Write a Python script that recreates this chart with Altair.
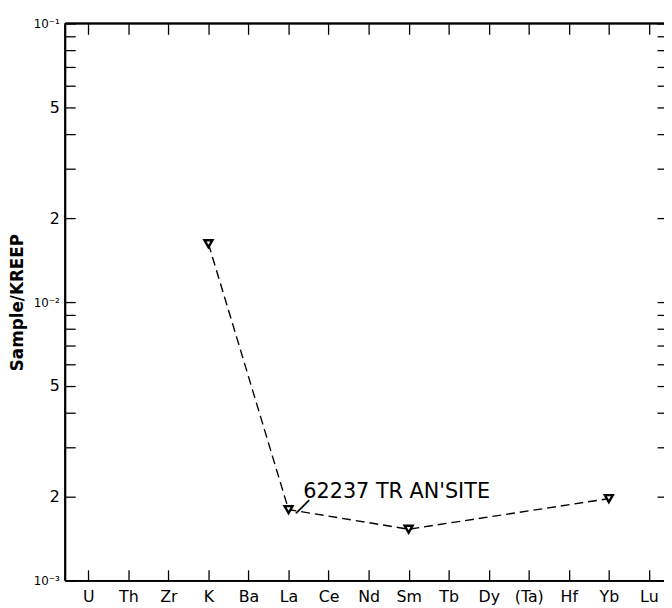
import altair as alt
import pandas as pd

# ---- data ----
categories = ["U", "Th", "Zr", "K", "Ba", "La", "Ce", "Nd", "Sm", "Tb",
              "Dy", "(Ta)", "Hf", "Yb", "Lu"]
elements = ["K", "La", "Sm", "Yb"]
ratios = [0.0162, 0.00180, 0.00153, 0.00197]

sample_label = "62237 TR AN'SITE"
label_element = "La"
label_ratio = 0.00208

y_tick_values = [0.001, 0.002, 0.003, 0.004, 0.005, 0.006, 0.007, 0.008, 0.009,
                 0.01, 0.02, 0.03, 0.04, 0.05, 0.06, 0.07, 0.08, 0.09, 0.1]
y_tick_labels = ["10⁻³", "2", "", "", "5", "", "", "", "",
                 "10⁻²", "2", "", "", "5", "", "", "", "", "10⁻¹"]
y_title = "Sample/KREEP"

# ---- tables ----
df = pd.DataFrame({
    "element": elements,
    "ratio": ratios,
    "order": [categories.index(e) for e in elements],
})
df_label = pd.DataFrame({"element": [label_element], "ratio": [label_ratio],
                         "text": [sample_label]})
df_leader = pd.DataFrame({"element": [label_element],
                          "ratio": [ratios[elements.index(label_element)]]})

label_expr = ""
for v, t in zip(y_tick_values, y_tick_labels):
    if t:
        label_expr += f"datum.value == {v!r} ? '{t}' : "
label_expr += "''"
pow_test = " || ".join(f"datum.value == {v!r}" for v, t in zip(y_tick_values, y_tick_labels)
                       if t.startswith("10"))

FONT = "DejaVu Sans"
W, H = 606, 564
XR = 614

xscale = alt.Scale(domain=categories, type="point", range=[0, XR], padding=0.575)
yscale = alt.Scale(type="log", domain=[0.001, 0.1], nice=False)

x_bottom = alt.X("element:N", scale=xscale, title=None,
                 axis=alt.Axis(orient="bottom", offset=-11, tickSize=11, tickWidth=1.3,
                               tickColor="black", domain=False, labelAngle=0,
                               labelPadding=8, labelFontSize=16, labelFont=FONT,
                               labelColor="black", labelBaseline="top"))
y_left = alt.Y("ratio:Q", scale=yscale,
               axis=alt.Axis(orient="left", offset=-10, tickSize=10, tickWidth=1.3,
                             tickColor="black", domain=False, grid=False,
                             values=y_tick_values, labelExpr=label_expr,
                             labelPadding=6, labelFont=FONT, labelColor="black",
                             labelAlign="right",
                             labelFontSize={"condition": {"test": pow_test, "value": 12},
                                            "value": 16},
                             title=y_title, titleFont=FONT, titleFontSize=17,
                             titleFontWeight="bold", titleColor="black",
                             titleX=-58, titleY=H / 2, titleBaseline="middle",
                             titleAlign="center", titleAngle=270))

base = alt.Chart(df)

line = base.mark_line(color="black", strokeWidth=1.4, strokeDash=[9, 5]).encode(
    x=x_bottom, y=y_left, order="order:Q")

points = base.mark_point(shape="triangle-down", filled=True, fill="white",
                         stroke="black", strokeWidth=2.4, size=65, opacity=1).encode(
    x=alt.X("element:N", scale=xscale), y=alt.Y("ratio:Q", scale=yscale))

label = alt.Chart(df_label).mark_text(align="left", baseline="middle", dx=15,
                                      fontSize=21, font=FONT, color="black").encode(
    x=alt.X("element:N", scale=xscale),
    y=alt.Y("ratio:Q", scale=yscale),
    text="text:N")

leader = alt.Chart(df_leader).mark_text(align="center", baseline="middle", dx=8, dy=-13,
                                        angle=45, fontSize=19, font=FONT,
                                        color="black", text="|").encode(
    x=alt.X("element:N", scale=xscale),
    y=alt.Y("ratio:Q", scale=yscale))

frame_top = base.mark_rule(color="black", strokeWidth=1.6).encode(
    x=alt.value(0), x2=alt.value(XR), y=alt.value(0))
frame_bottom = base.mark_rule(color="black", strokeWidth=1.6).encode(
    x=alt.value(0), x2=alt.value(XR), y=alt.value(H))
frame_left = base.mark_rule(color="black", strokeWidth=1.6).encode(
    x=alt.value(0), y=alt.value(0), y2=alt.value(H))

main = alt.layer(line, points, label, leader, frame_top, frame_bottom, frame_left)

mirror = base.mark_point(opacity=0).encode(
    x=alt.X("element:N", scale=xscale, title=None,
            axis=alt.Axis(orient="top", offset=-11, tickSize=11, tickWidth=1.3,
                          tickColor="black", domain=False, labels=False)),
    y=alt.Y("ratio:Q", scale=yscale, title=None,
            axis=alt.Axis(orient="right", offset=-7, tickSize=10, tickWidth=1.3,
                          tickColor="black", domain=False, grid=False,
                          values=y_tick_values, labels=False)))

chart = alt.layer(main, mirror).resolve_axis(x="independent", y="independent").properties(
    width=W, height=H,
    autosize=alt.AutoSizeParams(type="none"),
    padding={"left": 58, "top": 12, "right": 0, "bottom": 24},
    background="white",
).configure_view(stroke=None)

chart.save("out.html", embed_options={"renderer": "svg", "actions": False})
